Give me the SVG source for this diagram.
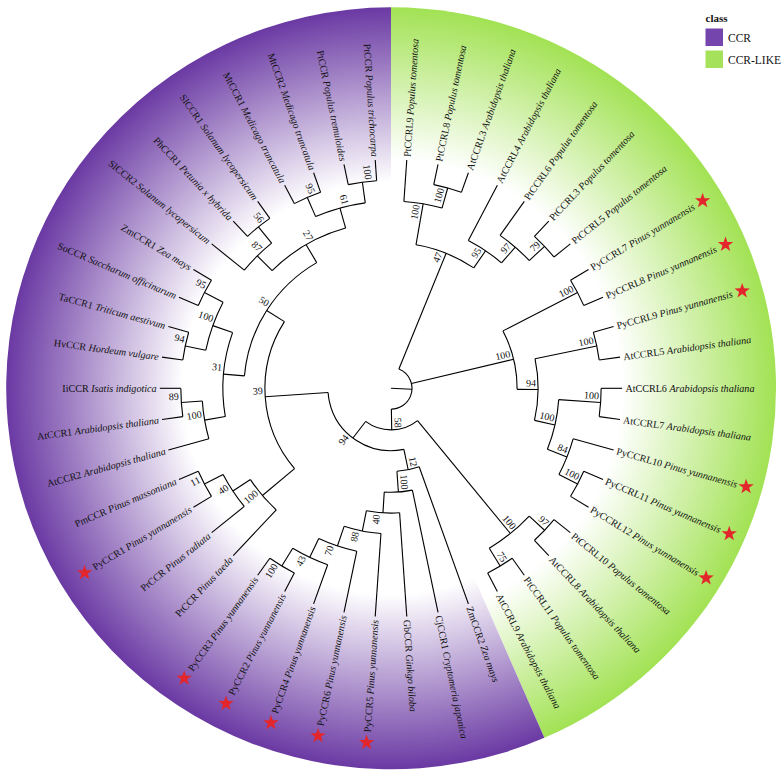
<svg xmlns="http://www.w3.org/2000/svg" width="784" height="776" viewBox="0 0 784 776">
<defs>
<radialGradient id="gP" gradientUnits="userSpaceOnUse" cx="0" cy="0" r="381">
<stop offset="0" stop-color="#ffffff"/><stop offset="0.54" stop-color="#ffffff"/><stop offset="1" stop-color="#6a39a3"/>
</radialGradient>
<radialGradient id="gG" gradientUnits="userSpaceOnUse" cx="0" cy="0" r="381">
<stop offset="0" stop-color="#ffffff"/><stop offset="0.6" stop-color="#ffffff"/><stop offset="1" stop-color="#a2e254"/>
</radialGradient>
<path id="star" d="M0,-8 L1.881,-2.589 L7.608,-2.472 L3.043,0.989 L4.702,6.472 L0,3.2 L-4.702,6.472 L-3.043,0.989 L-7.608,-2.472 L-1.881,-2.589 Z"/>
<style>
.br line,.br circle{fill:none;stroke:#000;stroke-width:1.1}
.lf{font-family:"Liberation Serif","Times New Roman",serif;font-size:10px;fill:#111}
.sp{font-style:italic}
.bs{font-family:"Liberation Serif","Times New Roman",serif;font-size:10px;fill:#111}
.st{fill:#e3262b}
.lg{font-family:"Liberation Serif","Times New Roman",serif;font-size:11.5px;fill:#111}
</style>
</defs>
<rect width="784" height="776" fill="#ffffff"/>
<g transform="translate(391 388.3) scale(1.0103 1)">
<g id="background">
<path fill="url(#gG)" d="M0,0 L0,-381 A381,381 0 0 1 151.8,349.5 Z"/>
<path fill="url(#gP)" d="M0,0 L151.8,349.5 A381,381 0 1 1 0,-381 Z"/>
</g>
<g id="connectors" class="br">
<line x2="20.8" transform="rotate(2.523)"/>
<circle r="20.8" pathLength="360" stroke-dasharray="156.996 400" transform="rotate(-67.989)"/>
<line x1="20.8" x2="145.6" transform="rotate(-67.989)"/>
<line x1="20.8" x2="124.8" transform="rotate(-13.451)"/>
<line x1="20.8" x2="41.6" transform="rotate(89.007)"/>
<circle r="145.6" pathLength="360" stroke-dasharray="24.456 400" transform="rotate(-80.217)"/>
<line x1="145.6" x2="187.2" transform="rotate(-80.217)"/>
<line x1="145.6" x2="166.4" transform="rotate(-55.761)"/>
<circle r="187.2" pathLength="360" stroke-dasharray="11.739 400" transform="rotate(-86.087)"/>
<line x1="187.2" x2="228.8" transform="rotate(-86.087)"/>
<line x1="187.2" x2="208" transform="rotate(-74.348)"/>
<circle r="208" pathLength="360" stroke-dasharray="7.826 400" transform="rotate(-78.261)"/>
<line x1="208" x2="228.8" transform="rotate(-78.261)"/>
<line x1="208" x2="228.8" transform="rotate(-70.435)"/>
<circle r="166.4" pathLength="360" stroke-dasharray="13.696 400" transform="rotate(-62.609)"/>
<line x1="166.4" x2="228.8" transform="rotate(-62.609)"/>
<line x1="166.4" x2="187.2" transform="rotate(-48.913)"/>
<circle r="187.2" pathLength="360" stroke-dasharray="11.74 400" transform="rotate(-54.783)"/>
<line x1="187.2" x2="228.8" transform="rotate(-54.783)"/>
<line x1="187.2" x2="208" transform="rotate(-43.043)"/>
<circle r="208" pathLength="360" stroke-dasharray="7.827 400" transform="rotate(-46.957)"/>
<line x1="208" x2="228.8" transform="rotate(-46.957)"/>
<line x1="208" x2="228.8" transform="rotate(-39.130)"/>
<circle r="124.8" pathLength="360" stroke-dasharray="27.88 400" transform="rotate(-27.391)"/>
<line x1="124.8" x2="208" transform="rotate(-27.391)"/>
<line x1="124.8" x2="145.6" transform="rotate(0.489)"/>
<circle r="208" pathLength="360" stroke-dasharray="7.826 400" transform="rotate(-31.304)"/>
<line x1="208" x2="228.8" transform="rotate(-31.304)"/>
<line x1="208" x2="228.8" transform="rotate(-23.478)"/>
<circle r="145.6" pathLength="360" stroke-dasharray="24.456 400" transform="rotate(-11.739)"/>
<line x1="145.6" x2="208" transform="rotate(-11.739)"/>
<line x1="145.6" x2="166.4" transform="rotate(12.717)"/>
<circle r="208" pathLength="360" stroke-dasharray="7.826 400" transform="rotate(-15.652)"/>
<line x1="208" x2="228.8" transform="rotate(-15.652)"/>
<line x1="208" x2="228.8" transform="rotate(-7.826)"/>
<circle r="166.4" pathLength="360" stroke-dasharray="17.609 400" transform="rotate(3.913)"/>
<line x1="166.4" x2="208" transform="rotate(3.913)"/>
<line x1="166.4" x2="187.2" transform="rotate(21.522)"/>
<circle r="208" pathLength="360" stroke-dasharray="7.826 400" transform="rotate(0)"/>
<line x1="208" x2="228.8" transform="rotate(0)"/>
<line x1="208" x2="228.8" transform="rotate(7.826)"/>
<circle r="187.2" pathLength="360" stroke-dasharray="11.739 400" transform="rotate(15.652)"/>
<line x1="187.2" x2="228.8" transform="rotate(15.652)"/>
<line x1="187.2" x2="208" transform="rotate(27.391)"/>
<circle r="208" pathLength="360" stroke-dasharray="7.826 400" transform="rotate(23.478)"/>
<line x1="208" x2="228.8" transform="rotate(23.478)"/>
<line x1="208" x2="228.8" transform="rotate(31.304)"/>
<circle r="41.6" pathLength="360" stroke-dasharray="76.273 400" transform="rotate(50.870)"/>
<line x1="41.6" x2="187.2" transform="rotate(50.870)"/>
<line x1="41.6" x2="62.4" transform="rotate(127.143)"/>
<circle r="187.2" pathLength="360" stroke-dasharray="15.653 400" transform="rotate(43.043)"/>
<line x1="187.2" x2="208" transform="rotate(43.043)"/>
<line x1="187.2" x2="208" transform="rotate(58.696)"/>
<circle r="208" pathLength="360" stroke-dasharray="7.827 400" transform="rotate(39.130)"/>
<line x1="208" x2="228.8" transform="rotate(39.130)"/>
<line x1="208" x2="228.8" transform="rotate(46.957)"/>
<circle r="208" pathLength="360" stroke-dasharray="7.826 400" transform="rotate(54.783)"/>
<line x1="208" x2="228.8" transform="rotate(54.783)"/>
<line x1="208" x2="228.8" transform="rotate(62.609)"/>
<circle r="62.4" pathLength="360" stroke-dasharray="97.887 400" transform="rotate(78.200)"/>
<line x1="62.4" x2="83.2" transform="rotate(78.200)"/>
<line x1="62.4" x2="124.8" transform="rotate(176.087)"/>
<circle r="83.2" pathLength="360" stroke-dasharray="15.53 400" transform="rotate(70.435)"/>
<line x1="83.2" x2="228.8" transform="rotate(70.435)"/>
<line x1="83.2" x2="104" transform="rotate(85.965)"/>
<circle r="104" pathLength="360" stroke-dasharray="15.408 400" transform="rotate(78.261)"/>
<line x1="104" x2="228.8" transform="rotate(78.261)"/>
<line x1="104" x2="124.8" transform="rotate(93.669)"/>
<circle r="124.8" pathLength="360" stroke-dasharray="15.163 400" transform="rotate(86.087)"/>
<line x1="124.8" x2="228.8" transform="rotate(86.087)"/>
<line x1="124.8" x2="145.6" transform="rotate(101.250)"/>
<circle r="145.6" pathLength="360" stroke-dasharray="14.674 400" transform="rotate(93.913)"/>
<line x1="145.6" x2="228.8" transform="rotate(93.913)"/>
<line x1="145.6" x2="166.4" transform="rotate(108.587)"/>
<circle r="166.4" pathLength="360" stroke-dasharray="13.696 400" transform="rotate(101.739)"/>
<line x1="166.4" x2="228.8" transform="rotate(101.739)"/>
<line x1="166.4" x2="187.2" transform="rotate(115.435)"/>
<circle r="187.2" pathLength="360" stroke-dasharray="11.739 400" transform="rotate(109.565)"/>
<line x1="187.2" x2="228.8" transform="rotate(109.565)"/>
<line x1="187.2" x2="208" transform="rotate(121.304)"/>
<circle r="208" pathLength="360" stroke-dasharray="7.826 400" transform="rotate(117.391)"/>
<line x1="208" x2="228.8" transform="rotate(117.391)"/>
<line x1="208" x2="228.8" transform="rotate(125.217)"/>
<circle r="124.8" pathLength="360" stroke-dasharray="72.392 400" transform="rotate(139.891)"/>
<line x1="124.8" x2="166.4" transform="rotate(139.891)"/>
<line x1="124.8" x2="145.6" transform="rotate(212.283)"/>
<circle r="166.4" pathLength="360" stroke-dasharray="13.696 400" transform="rotate(133.043)"/>
<line x1="166.4" x2="228.8" transform="rotate(133.043)"/>
<line x1="166.4" x2="187.2" transform="rotate(146.739)"/>
<circle r="187.2" pathLength="360" stroke-dasharray="11.739 400" transform="rotate(140.870)"/>
<line x1="187.2" x2="228.8" transform="rotate(140.870)"/>
<line x1="187.2" x2="208" transform="rotate(152.609)"/>
<circle r="208" pathLength="360" stroke-dasharray="7.826 400" transform="rotate(148.696)"/>
<line x1="208" x2="228.8" transform="rotate(148.696)"/>
<line x1="208" x2="228.8" transform="rotate(156.522)"/>
<circle r="145.6" pathLength="360" stroke-dasharray="54.783 400" transform="rotate(184.891)"/>
<line x1="145.6" x2="166.4" transform="rotate(184.891)"/>
<line x1="145.6" x2="166.4" transform="rotate(239.674)"/>
<circle r="166.4" pathLength="360" stroke-dasharray="29.348 400" transform="rotate(170.217)"/>
<line x1="166.4" x2="187.2" transform="rotate(170.217)"/>
<line x1="166.4" x2="187.2" transform="rotate(199.565)"/>
<circle r="187.2" pathLength="360" stroke-dasharray="11.739 400" transform="rotate(164.348)"/>
<line x1="187.2" x2="228.8" transform="rotate(164.348)"/>
<line x1="187.2" x2="208" transform="rotate(176.087)"/>
<circle r="208" pathLength="360" stroke-dasharray="7.826 400" transform="rotate(172.174)"/>
<line x1="208" x2="228.8" transform="rotate(172.174)"/>
<line x1="208" x2="228.8" transform="rotate(180)"/>
<circle r="187.2" pathLength="360" stroke-dasharray="15.652 400" transform="rotate(191.739)"/>
<line x1="187.2" x2="208" transform="rotate(191.739)"/>
<line x1="187.2" x2="208" transform="rotate(207.391)"/>
<circle r="208" pathLength="360" stroke-dasharray="7.826 400" transform="rotate(187.826)"/>
<line x1="208" x2="228.8" transform="rotate(187.826)"/>
<line x1="208" x2="228.8" transform="rotate(195.652)"/>
<circle r="208" pathLength="360" stroke-dasharray="7.826 400" transform="rotate(203.478)"/>
<line x1="208" x2="228.8" transform="rotate(203.478)"/>
<line x1="208" x2="228.8" transform="rotate(211.304)"/>
<circle r="166.4" pathLength="360" stroke-dasharray="29.348 400" transform="rotate(225)"/>
<line x1="166.4" x2="187.2" transform="rotate(225)"/>
<line x1="166.4" x2="187.2" transform="rotate(254.348)"/>
<circle r="187.2" pathLength="360" stroke-dasharray="11.74 400" transform="rotate(219.130)"/>
<line x1="187.2" x2="228.8" transform="rotate(219.130)"/>
<line x1="187.2" x2="208" transform="rotate(230.870)"/>
<circle r="208" pathLength="360" stroke-dasharray="7.826 400" transform="rotate(226.957)"/>
<line x1="208" x2="228.8" transform="rotate(226.957)"/>
<line x1="208" x2="228.8" transform="rotate(234.783)"/>
<circle r="187.2" pathLength="360" stroke-dasharray="15.652 400" transform="rotate(246.522)"/>
<line x1="187.2" x2="208" transform="rotate(246.522)"/>
<line x1="187.2" x2="208" transform="rotate(262.174)"/>
<circle r="208" pathLength="360" stroke-dasharray="7.826 400" transform="rotate(242.609)"/>
<line x1="208" x2="228.8" transform="rotate(242.609)"/>
<line x1="208" x2="228.8" transform="rotate(250.435)"/>
<circle r="208" pathLength="360" stroke-dasharray="7.826 400" transform="rotate(258.261)"/>
<line x1="208" x2="228.8" transform="rotate(258.261)"/>
<line x1="208" x2="228.8" transform="rotate(266.087)"/>
</g>
<g id="internal-nodes" class="bs">
<g id="n100a" transform="rotate(-80.217)"><text x="185.2" y="-3" text-anchor="end">100</text></g>
<g id="n100b" transform="rotate(-74.348)"><text x="206" y="-3" text-anchor="end">100</text></g>
<g id="n47" transform="rotate(-67.989)"><text x="143.6" y="-3" text-anchor="end">47</text></g>
<g id="n95a" transform="rotate(-55.761)"><text x="164.4" y="-3" text-anchor="end">95</text></g>
<g id="n97a" transform="rotate(-48.913)"><text x="185.2" y="-3" text-anchor="end">97</text></g>
<g id="n79" transform="rotate(-43.043)"><text x="206" y="-3" text-anchor="end">79</text></g>
<g id="n100B" transform="rotate(-13.451)"><text x="122.8" y="-3" text-anchor="end">100</text></g>
<g id="n100py78" transform="rotate(-27.391)"><text x="206" y="-3" text-anchor="end">100</text></g>
<g id="n94a" transform="rotate(0.489)"><text x="143.6" y="-3" text-anchor="end">94</text></g>
<g id="n100py9" transform="rotate(-11.739)"><text x="206" y="-3" text-anchor="end">100</text></g>
<g id="n100c" transform="rotate(12.717)"><text x="164.4" y="-3" text-anchor="end">100</text></g>
<g id="n100at67" transform="rotate(3.913)"><text x="206" y="-3" text-anchor="end">100</text></g>
<g id="n84" transform="rotate(21.522)"><text x="185.2" y="-3" text-anchor="end">84</text></g>
<g id="n100py1112" transform="rotate(27.391)"><text x="206" y="-3" text-anchor="end">100</text></g>
<g id="n58" transform="rotate(89.007)"><text x="39.6" y="-3" text-anchor="end">58</text></g>
<g id="n100C" transform="rotate(50.870)"><text x="185.2" y="-3" text-anchor="end">100</text></g>
<g id="n97b" transform="rotate(43.043)"><text x="206" y="-3" text-anchor="end">97</text></g>
<g id="n75" transform="rotate(58.696)"><text x="206" y="-3" text-anchor="end">75</text></g>
<g id="n12" transform="rotate(78.200)"><text x="81.2" y="-3" text-anchor="end">12</text></g>
<g id="n100q" transform="rotate(85.965)"><text x="102" y="-3" text-anchor="end">100</text></g>
<g id="n94big" transform="rotate(-52.857)"><text x="-64.4" y="-3" text-anchor="end">94</text></g>
<g id="n40q" transform="rotate(-86.331)"><text x="-126.8" y="-3" text-anchor="end">40</text></g>
<g id="n88" transform="rotate(-78.75)"><text x="-147.6" y="-3" text-anchor="end">88</text></g>
<g id="n70" transform="rotate(-71.413)"><text x="-168.4" y="-3" text-anchor="end">70</text></g>
<g id="n43" transform="rotate(-64.565)"><text x="-189.2" y="-3" text-anchor="end">43</text></g>
<g id="n100p" transform="rotate(-58.696)"><text x="-210" y="-3" text-anchor="end">100</text></g>
<g id="n39" transform="rotate(-3.913)"><text x="-126.8" y="-3" text-anchor="end">39</text></g>
<g id="n100g" transform="rotate(-40.109)"><text x="-168.4" y="-3" text-anchor="end">100</text></g>
<g id="n40p" transform="rotate(-33.261)"><text x="-189.2" y="-3" text-anchor="end">40</text></g>
<g id="n11" transform="rotate(-27.391)"><text x="-210" y="-3" text-anchor="end">11</text></g>
<g id="n50" transform="rotate(32.283)"><text x="-147.6" y="-3" text-anchor="end">50</text></g>
<g id="n31" transform="rotate(4.891)"><text x="-168.4" y="-3" text-anchor="end">31</text></g>
<g id="n100at" transform="rotate(-9.783)"><text x="-189.2" y="-3" text-anchor="end">100</text></g>
<g id="n89" transform="rotate(-3.913)"><text x="-210" y="-3" text-anchor="end">89</text></g>
<g id="n100gr" transform="rotate(19.565)"><text x="-189.2" y="-3" text-anchor="end">100</text></g>
<g id="n94g" transform="rotate(11.739)"><text x="-210" y="-3" text-anchor="end">94</text></g>
<g id="n95g" transform="rotate(27.391)"><text x="-210" y="-3" text-anchor="end">95</text></g>
<g id="n27" transform="rotate(59.674)"><text x="-168.4" y="-3" text-anchor="end">27</text></g>
<g id="n87" transform="rotate(45)"><text x="-189.2" y="-3" text-anchor="end">87</text></g>
<g id="n56" transform="rotate(50.870)"><text x="-210" y="-3" text-anchor="end">56</text></g>
<g id="n61" transform="rotate(74.348)"><text x="-189.2" y="-3" text-anchor="end">61</text></g>
<g id="n95d" transform="rotate(66.522)"><text x="-210" y="-3" text-anchor="end">95</text></g>
<g id="n100d" transform="rotate(82.174)"><text x="-210" y="-3" text-anchor="end">100</text></g>
</g>
<g id="leaves" class="lf">
<g id="leaf-PtCCRL9" transform="rotate(-86.087)"><text x="232" dy="3.5">PtCCRL9 <tspan class="sp">Populus tomentosa</tspan></text></g>
<g id="leaf-PtCCRL8" transform="rotate(-78.261)"><text x="232" dy="3.5">PtCCRL8 <tspan class="sp">Populus tomentosa</tspan></text></g>
<g id="leaf-AtCCRL3" transform="rotate(-70.435)"><text x="232" dy="3.5">AtCCRL3 <tspan class="sp">Arabidopsis thaliana</tspan></text></g>
<g id="leaf-AtCCRL4" transform="rotate(-62.609)"><text x="232" dy="3.5">AtCCRL4 <tspan class="sp">Arabidopsis thaliana</tspan></text></g>
<g id="leaf-PtCCRL6" transform="rotate(-54.783)"><text x="232" dy="3.5">PtCCRL6 <tspan class="sp">Populus tomentosa</tspan></text></g>
<g id="leaf-PtCCRL3" transform="rotate(-46.957)"><text x="232" dy="3.5">PtCCRL3 <tspan class="sp">Populus tomentosa</tspan></text></g>
<g id="leaf-PtCCRL5" transform="rotate(-39.130)"><text x="232" dy="3.5">PtCCRL5 <tspan class="sp">Populus tomentosa</tspan></text></g>
<g id="leaf-PyCCRL7" transform="rotate(-31.304)"><text x="232" dy="3.5">PyCCRL7 <tspan class="sp">Pinus yunnanensis</tspan></text><use href="#star" class="st" transform="translate(361 0) rotate(31.304)"/></g>
<g id="leaf-PyCCRL8" transform="rotate(-23.478)"><text x="232" dy="3.5">PyCCRL8 <tspan class="sp">Pinus yunnanensis</tspan></text><use href="#star" class="st" transform="translate(361 0) rotate(23.478)"/></g>
<g id="leaf-PyCCRL9" transform="rotate(-15.652)"><text x="232" dy="3.5">PyCCRL9 <tspan class="sp">Pinus yunnanensis</tspan></text><use href="#star" class="st" transform="translate(361 0) rotate(15.652)"/></g>
<g id="leaf-AtCCRL5" transform="rotate(-7.826)"><text x="232" dy="3.5">AtCCRL5 <tspan class="sp">Arabidopsis thaliana</tspan></text></g>
<g id="leaf-AtCCRL6" transform="rotate(0)"><text x="232" dy="3.5">AtCCRL6 <tspan class="sp">Arabidopsis thaliana</tspan></text></g>
<g id="leaf-AtCCRL7" transform="rotate(7.826)"><text x="232" dy="3.5">AtCCRL7 <tspan class="sp">Arabidopsis thaliana</tspan></text></g>
<g id="leaf-PyCCRL10" transform="rotate(15.652)"><text x="232" dy="3.5">PyCCRL10 <tspan class="sp">Pinus yunnanensis</tspan></text><use href="#star" class="st" transform="translate(365 0) rotate(-15.652)"/></g>
<g id="leaf-PyCCRL11" transform="rotate(23.478)"><text x="232" dy="3.5">PyCCRL11 <tspan class="sp">Pinus yunnanensis</tspan></text><use href="#star" class="st" transform="translate(365 0) rotate(-23.478)"/></g>
<g id="leaf-PyCCRL12" transform="rotate(31.304)"><text x="232" dy="3.5">PyCCRL12 <tspan class="sp">Pinus yunnanensis</tspan></text><use href="#star" class="st" transform="translate(365 0) rotate(-31.304)"/></g>
<g id="leaf-PtCCRL10" transform="rotate(39.130)"><text x="232" dy="3.5">PtCCRL10 <tspan class="sp">Populus tomentosa</tspan></text></g>
<g id="leaf-AtCCRL8" transform="rotate(46.957)"><text x="232" dy="3.5">AtCCRL8 <tspan class="sp">Arabidopsis thaliana</tspan></text></g>
<g id="leaf-PtCCRL11" transform="rotate(54.783)"><text x="232" dy="3.5">PtCCRL11 <tspan class="sp">Populus tomentosa</tspan></text></g>
<g id="leaf-AtCCRL9" transform="rotate(62.609)"><text x="232" dy="3.5">AtCCRL9 <tspan class="sp">Arabidopsis thaliana</tspan></text></g>
<g id="leaf-ZmCCR2" transform="rotate(70.435)"><text x="232" dy="3.5">ZmCCR2 <tspan class="sp">Zea mays</tspan></text></g>
<g id="leaf-CjCCR1" transform="rotate(78.261)"><text x="232" dy="3.5">CjCCR1 <tspan class="sp">Cryptomeria japonica</tspan></text></g>
<g id="leaf-GbCCR" transform="rotate(86.087)"><text x="232" dy="3.5">GbCCR <tspan class="sp">Ginkgo biloba</tspan></text></g>
<g id="leaf-PyCCR5" transform="rotate(-86.087)"><text x="-232" dy="3.5" text-anchor="end">PyCCR5 <tspan class="sp">Pinus yunnanensis</tspan></text><use href="#star" class="st" transform="translate(-355 0) rotate(86.087)"/></g>
<g id="leaf-PyCCR6" transform="rotate(-78.261)"><text x="-232" dy="3.5" text-anchor="end">PyCCR6 <tspan class="sp">Pinus yunnanensis</tspan></text><use href="#star" class="st" transform="translate(-355 0) rotate(78.261)"/></g>
<g id="leaf-PyCCR4" transform="rotate(-70.435)"><text x="-232" dy="3.5" text-anchor="end">PyCCR4 <tspan class="sp">Pinus yunnanensis</tspan></text><use href="#star" class="st" transform="translate(-355 0) rotate(70.435)"/></g>
<g id="leaf-PyCCR2" transform="rotate(-62.609)"><text x="-232" dy="3.5" text-anchor="end">PyCCR2 <tspan class="sp">Pinus yunnanensis</tspan></text><use href="#star" class="st" transform="translate(-355 0) rotate(62.609)"/></g>
<g id="leaf-PyCCR3" transform="rotate(-54.783)"><text x="-232" dy="3.5" text-anchor="end">PyCCR3 <tspan class="sp">Pinus yunnanensis</tspan></text><use href="#star" class="st" transform="translate(-355 0) rotate(54.783)"/></g>
<g id="leaf-PtCCR-taeda" transform="rotate(-46.957)"><text x="-232" dy="3.5" text-anchor="end">PtCCR <tspan class="sp">Pinus taeda</tspan></text></g>
<g id="leaf-PrCCR" transform="rotate(-39.130)"><text x="-232" dy="3.5" text-anchor="end">PrCCR <tspan class="sp">Pinus radiata</tspan></text></g>
<g id="leaf-PyCCR1" transform="rotate(-31.304)"><text x="-232" dy="3.5" text-anchor="end">PyCCR1 <tspan class="sp">Pinus yunnanensis</tspan></text><use href="#star" class="st" transform="translate(-355 0) rotate(31.304)"/></g>
<g id="leaf-PmCCR" transform="rotate(-23.478)"><text x="-232" dy="3.5" text-anchor="end">PmCCR <tspan class="sp">Pinus massoniana</tspan></text></g>
<g id="leaf-AtCCR2" transform="rotate(-15.652)"><text x="-232" dy="3.5" text-anchor="end">AtCCR2 <tspan class="sp">Arabidopsis thaliana</tspan></text></g>
<g id="leaf-AtCCR1" transform="rotate(-7.826)"><text x="-232" dy="3.5" text-anchor="end">AtCCR1 <tspan class="sp">Arabidopsis thaliana</tspan></text></g>
<g id="leaf-IiCCR" transform="rotate(0)"><text x="-232" dy="3.5" text-anchor="end">IiCCR <tspan class="sp">Isatis indigotica</tspan></text></g>
<g id="leaf-HvCCR" transform="rotate(7.826)"><text x="-232" dy="3.5" text-anchor="end">HvCCR <tspan class="sp">Hordeum vulgare</tspan></text></g>
<g id="leaf-TaCCR1" transform="rotate(15.652)"><text x="-232" dy="3.5" text-anchor="end">TaCCR1 <tspan class="sp">Triticum aestivum</tspan></text></g>
<g id="leaf-SoCCR" transform="rotate(23.478)"><text x="-232" dy="3.5" text-anchor="end">SoCCR <tspan class="sp">Saccharum officinarum</tspan></text></g>
<g id="leaf-ZmCCR1" transform="rotate(31.304)"><text x="-232" dy="3.5" text-anchor="end">ZmCCR1 <tspan class="sp">Zea mays</tspan></text></g>
<g id="leaf-SlCCR2" transform="rotate(39.130)"><text x="-232" dy="3.5" text-anchor="end">SlCCR2 <tspan class="sp">Solanum lycopersicum</tspan></text></g>
<g id="leaf-PhCCR1" transform="rotate(46.957)"><text x="-232" dy="3.5" text-anchor="end">PhCCR1 <tspan class="sp">Petunia x hybrida</tspan></text></g>
<g id="leaf-SlCCR1" transform="rotate(54.783)"><text x="-232" dy="3.5" text-anchor="end">SlCCR1 <tspan class="sp">Solanum lycopersicum</tspan></text></g>
<g id="leaf-MtCCR1" transform="rotate(62.609)"><text x="-232" dy="3.5" text-anchor="end">MtCCR1 <tspan class="sp">Medicago truncatula</tspan></text></g>
<g id="leaf-MtCCR2" transform="rotate(70.435)"><text x="-232" dy="3.5" text-anchor="end">MtCCR2 <tspan class="sp">Medicago truncatula</tspan></text></g>
<g id="leaf-PtCCR-tremuloides" transform="rotate(78.261)"><text x="-232" dy="3.5" text-anchor="end">PtCCR <tspan class="sp">Populus tremuloides</tspan></text></g>
<g id="leaf-PtCCR-trichocarpa" transform="rotate(86.087)"><text x="-232" dy="3.5" text-anchor="end">PtCCR <tspan class="sp">Populus trichocarpa</tspan></text></g>
</g>
</g>
<g id="legend" class="lg">
<text x="705.5" y="21.5" font-weight="bold" font-size="11px">class</text>
<rect x="705.5" y="28.5" width="17.5" height="17.5" fill="#7445ad"/>
<text x="728" y="41.5">CCR</text>
<rect x="705.5" y="50.5" width="17.5" height="17.5" fill="#a5e15a"/>
<text x="728" y="63.5">CCR-LIKE</text>
</g>
</svg>
